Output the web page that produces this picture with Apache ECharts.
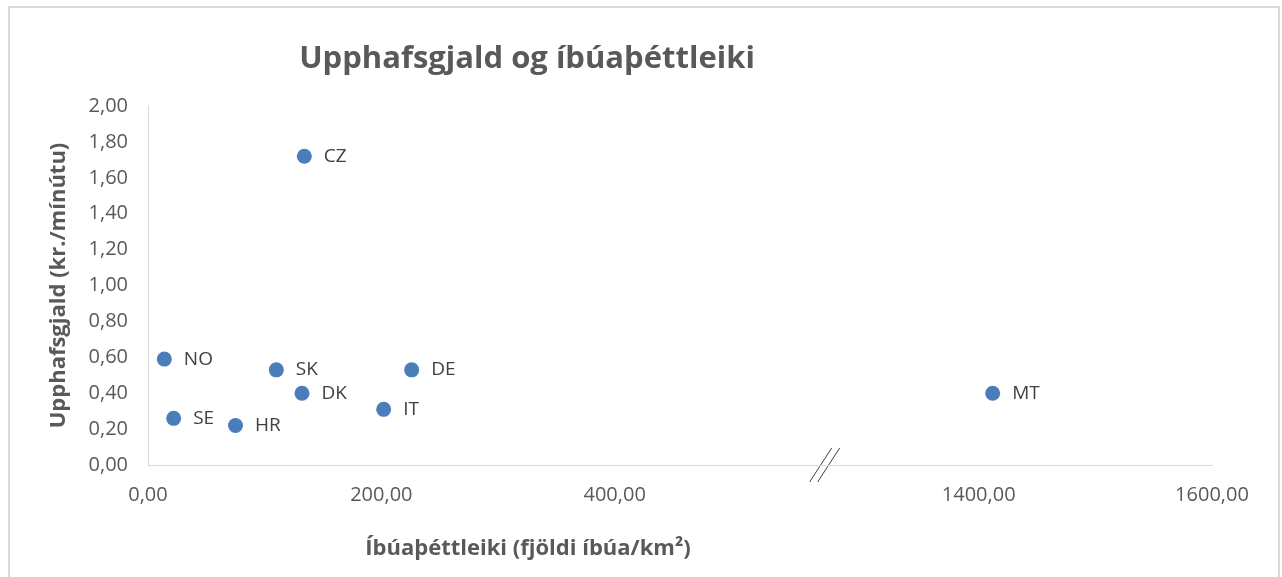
<!DOCTYPE html>
<html><head><meta charset="utf-8">
<script src="https://cdn.jsdelivr.net/npm/echarts@6/dist/echarts.min.js"></script>
<style>html,body{margin:0;padding:0;background:#fff}#c{width:1282px;height:577px}</style>
</head><body><div id="c"></div>
<script>
const countries = ['NO', 'SE', 'HR', 'SK', 'DK', 'CZ', 'IT', 'DE', 'MT'];
const density = [14, 22, 75, 110, 132, 134, 202, 226, 1412];
const fee = [0.59, 0.26, 0.22, 0.53, 0.40, 1.72, 0.31, 0.53, 0.40];
const xTickValues = [0, 200, 400, 1400, 1600];
const axisBreak = [580, 1268];
const chartTitle = 'Upphafsgjald og íbúaþéttleiki';
const xName = 'Íbúaþéttleiki (fjöldi íbúa/km²)';
const yName = 'Upphafsgjald (kr./mínútu)';

const FONT = 'Open Sans';
const fmt = v => Number(v).toFixed(2).replace('.', ',');
const chart = echarts.init(document.getElementById('c'), null, {renderer: 'canvas'});

chart.setOption({
  animation: false,
  backgroundColor: '#ffffff',
  textStyle: {fontFamily: FONT},
  title: [
    {text: chartTitle, left: 522, top: 39, textAlign: 'center',
     textStyle: {fontFamily: FONT, fontWeight: 'bold', fontSize: 31, color: '#595959'}},
    {text: xName, left: 523, top: 533, textAlign: 'center',
     textStyle: {fontFamily: FONT, fontWeight: 'bold', fontSize: 22, color: '#595959'}}
  ],
  grid: {left: 148, right: 70, top: 106, bottom: 112, containLabel: false},
  xAxis: {
    type: 'value', min: 0, max: 1600, interval: 200,
    breaks: [{start: axisBreak[0], end: axisBreak[1], gap: 0}],
    breakArea: {show: false},
    axisLine: {show: true, lineStyle: {color: '#d9d9d9', width: 1}},
    axisTick: {show: false},
    splitLine: {show: false},
    axisLabel: {customValues: xTickValues, formatter: fmt, color: '#595959',
                fontFamily: FONT, fontSize: 20, margin: 20}
  },
  yAxis: {
    type: 'value', min: 0, max: 2, interval: 0.2,
    name: yName, nameLocation: 'middle', nameGap: 78,
    nameTextStyle: {fontFamily: FONT, fontWeight: 'bold', fontSize: 22, color: '#595959'},
    axisLine: {show: true, lineStyle: {color: '#d9d9d9', width: 1}},
    axisTick: {show: false},
    splitLine: {show: false},
    axisLabel: {formatter: fmt, color: '#595959', fontFamily: FONT, fontSize: 20, margin: 20}
  },
  series: [{
    type: 'scatter',
    symbolSize: 15,
    itemStyle: {color: '#4A7EBB', opacity: 1},
    label: {show: true, position: 'right', distance: 12, formatter: '{b}',
            color: '#404040', fontFamily: FONT, fontSize: 19},
    data: countries.map((c, i) => ({name: c, value: [density[i], fee[i]]}))
  }]
});

const bx = chart.convertToPixel({xAxisIndex: 0}, axisBreak[0]);
const by = chart.convertToPixel({yAxisIndex: 0}, 0);
chart.setOption({
  graphic: [
    {type: 'rect', shape: {x: 9, y: 7, width: 1270, height: 600},
     style: {fill: 'none', stroke: '#d9d9d9', lineWidth: 2}, silent: true},
    {type: 'line', shape: {x1: bx - 15, y1: by + 17, x2: bx + 7, y2: by - 17},
     style: {stroke: '#404040', lineWidth: 1}, silent: true},
    {type: 'line', shape: {x1: bx - 7, y1: by + 17, x2: bx + 15, y2: by - 17},
     style: {stroke: '#404040', lineWidth: 1}, silent: true}
  ]
});
</script></body></html>
